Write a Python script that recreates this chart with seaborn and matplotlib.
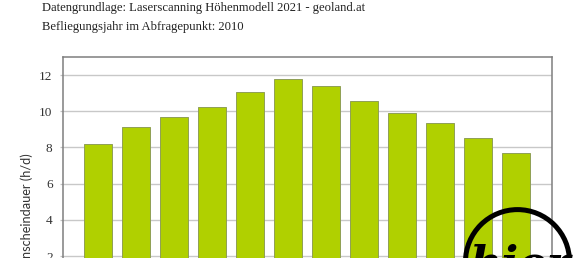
import matplotlib
matplotlib.use("Agg")
import matplotlib.pyplot as plt
from matplotlib.patches import Ellipse
import seaborn as sns
import pandas as pd

# ---- data ----
months = ["Jan", "Feb", "Mär", "Apr", "Mai", "Jun", "Jul", "Aug", "Sep", "Okt", "Nov", "Dez"]
sunshine = [8.17, 9.12, 9.67, 10.22, 11.07, 11.81, 11.38, 10.57, 9.89, 9.37, 8.53, 7.67]
yticks = [0, 2, 4, 6, 8, 10, 12]
title_lines = ["Datengrundlage: Laserscanning Höhenmodell 2021 - geoland.at",
               "Befliegungsjahr im Abfragepunkt: 2010"]
ylabel = "Sonnenscheindauer (h/d)"

df = pd.DataFrame({"Monat": months, "Stunden": sunshine})

sns.set_theme(style="white")
plt.rcParams["font.family"] = ["Liberation Serif", "DejaVu Serif"]

W, H = 579, 258
fig = plt.figure(figsize=(W / 100, H / 100), dpi=100)
ax = fig.add_axes([63 / W, 1 - 292.2 / H, 489 / W, (292.2 - 57) / H])

sns.barplot(data=df, x="Monat", y="Stunden", ax=ax, color="#b0d000",
            width=0.74, edgecolor="#8f9f55", linewidth=0.7, saturation=1, zorder=3)

ax.set_ylim(0, 13)
ax.set_xlim(-0.921, 11.947)
ax.set_yticks(yticks)
ax.set_yticklabels([str(t) for t in yticks], fontsize=9.5, color="#333333")
ax.yaxis.grid(True, color="#c8c8c8", linewidth=1.0, zorder=0)
ax.set_axisbelow(True)
ax.tick_params(axis="y", which="both", left=True, length=2.5, width=0.9,
               color="#c0c0c0", pad=5)
ax.tick_params(axis="x", labelsize=9.5, bottom=False)
ax.set_xlabel("")
ax.set_ylabel("")
for s in ["left", "top", "right", "bottom"]:
    ax.spines[s].set_visible(True)
    ax.spines[s].set_color("#7f7f7f")
    ax.spines[s].set_linewidth(1.1)

# titles
fig.text(42 / W, 1 - 11 / H, title_lines[0], fontsize=9.1, color="#222222",
         va="baseline", ha="left")
fig.text(42 / W, 1 - 30 / H, title_lines[1], fontsize=9.1, color="#222222",
         va="baseline", ha="left")

# y label (sans)
fig.text(27 / W, 1 - 153 / H, ylabel, rotation=90, fontsize=9.2,
         family=["Lato", "DejaVu Sans"], color="#333333",
         va="top", ha="center")

# watermark logo
r = 52
circ = Ellipse((517.5 / W, 1 - 261.6 / H), 2 * r / W, 2 * r / H,
               transform=fig.transFigure, fill=False, edgecolor="black",
               linewidth=3.6, zorder=10)
fig.add_artist(circ)
fig.text(520 / W, 1 - 278 / H, "hier", fontsize=32, fontweight="bold",
         style="italic", family=["DejaVu Serif"], color="black",
         ha="center", va="baseline", zorder=11)

fig.savefig("out.png", dpi=100)
